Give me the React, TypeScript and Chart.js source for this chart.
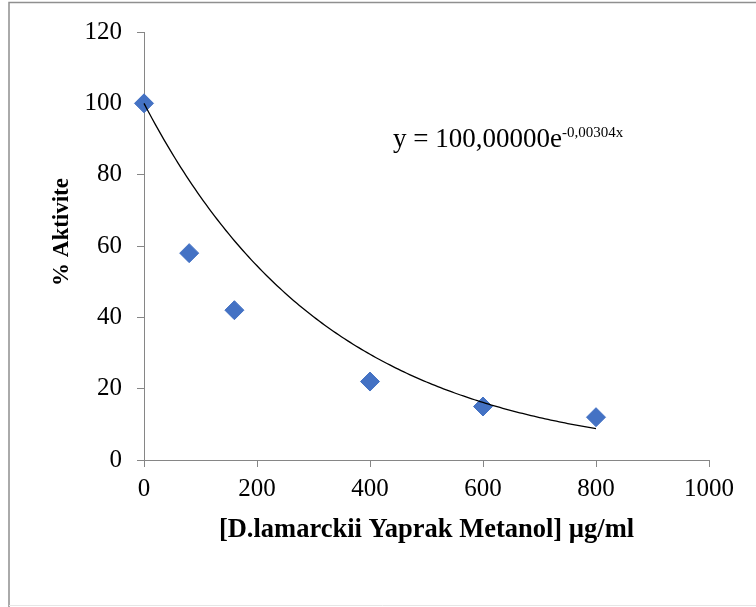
import { useEffect, useRef } from "react";
import { Chart, registerables } from "chart.js";

Chart.register(...registerables);

// Measured points: concentration (µg/ml) vs. remaining activity (%)
const concentrations = [0, 80, 160, 400, 600, 800];
const activity = [100, 58, 42, 22, 15, 12];

// Axis tick values
const xTicks = [0, 200, 400, 600, 800, 1000];
const yTicks = [0, 20, 40, 60, 80, 100, 120];

// Exponential trendline y = A·e^(k·x), drawn over the measured range
const trendA = 100;
const trendK = -0.00304;
const trendFrom = 0;
const trendTo = 800;
const trendStep = 5;

const equationMain = "y = 100,00000e";
const equationExp = "-0,00304x";
const xTitle = "[D.lamarckii Yaprak Metanol] µg/ml";
const yTitle = "% Aktivite";

const SERIF = "'Liberation Serif', 'Times New Roman', serif";
const AXIS_GREY = "#868686";
const MARKER_BLUE = "#4472C4";

function trendPoints() {
  const pts: { x: number; y: number }[] = [];
  for (let x = trendFrom; x <= trendTo; x += trendStep) {
    pts.push({ x, y: trendA * Math.exp(trendK * x) });
  }
  return pts;
}

const framePlugin = {
  id: "frame",
  beforeDraw(chart: any) {
    const { ctx, width, height } = chart;
    ctx.save();
    ctx.fillStyle = "#ffffff";
    ctx.fillRect(0, 0, width, height);
    ctx.strokeStyle = "#8f8f8f";
    ctx.lineWidth = 1.5;
    ctx.beginPath();
    ctx.moveTo(9, height);
    ctx.lineTo(9, 2.5);
    ctx.lineTo(width, 2.5);
    ctx.stroke();
    ctx.strokeStyle = "#e6e6e6";
    ctx.lineWidth = 1;
    ctx.beginPath();
    ctx.moveTo(9, height - 1.5);
    ctx.lineTo(width, height - 1.5);
    ctx.stroke();
    ctx.restore();
  },
};

// Trendline equation and the rotated y-axis title
const annotationPlugin = {
  id: "annotations",
  afterDraw(chart: any) {
    const { ctx, chartArea } = chart;
    const x = chartArea.left + 249;
    const y = chartArea.top + 115;
    ctx.save();
    ctx.fillStyle = "#000";
    ctx.textBaseline = "alphabetic";
    ctx.textAlign = "left";
    ctx.font = `27px ${SERIF}`;
    ctx.fillText(equationMain, x, y);
    const w = ctx.measureText(equationMain).width;
    ctx.font = `15px ${SERIF}`;
    ctx.fillText(equationExp, x + w, y - 10);

    ctx.translate(62, chartArea.top + 200);
    ctx.rotate(-Math.PI / 2);
    ctx.textAlign = "center";
    ctx.textBaseline = "middle";
    ctx.font = `bold 23px ${SERIF}`;
    ctx.fillText(yTitle, 0, 0);
    ctx.restore();
  },
};

export default function App() {
  const canvasRef = useRef<HTMLCanvasElement | null>(null);

  useEffect(() => {
    const canvas = canvasRef.current;
    if (!canvas) return;
    Chart.defaults.font.family = SERIF;
    const chart = new Chart(canvas, {
      type: "scatter",
      data: {
        datasets: [
          {
            type: "line",
            label: "Trend",
            data: trendPoints(),
            borderColor: "#000",
            borderWidth: 1.3,
            pointRadius: 0,
            tension: 0,
            fill: false,
            order: 0,
            clip: false,
          } as any,
          {
            label: "Aktivite",
            data: concentrations.map((c, i) => ({ x: c, y: activity[i] })),
            pointStyle: "rectRot",
            pointRadius: 9.5,
            pointHoverRadius: 9.5,
            backgroundColor: MARKER_BLUE,
            borderColor: MARKER_BLUE,
            borderWidth: 1,
            order: 1,
            clip: false,
          } as any,
        ],
      },
      options: {
        animation: false,
        responsive: false,
        layout: { padding: { left: 0, right: 47, top: 32, bottom: 0 } },
        plugins: {
          legend: { display: false },
          tooltip: { enabled: false },
        },
        scales: {
          x: {
            type: "linear",
            position: "bottom",
            min: 0,
            max: 1000,
            afterBuildTicks: (s: any) => {
              s.ticks = xTicks.map((v) => ({ value: v }));
            },
            afterFit: (s: any) => {
              s.height = 147;
            },
            grid: {
              display: true,
              drawOnChartArea: false,
              drawTicks: true,
              tickLength: 7,
              color: AXIS_GREY,
              lineWidth: 1,
            },
            border: { display: true, color: AXIS_GREY, width: 1 },
            ticks: {
              color: "#000",
              font: { size: 25 },
              padding: 7,
              maxRotation: 0,
              callback: (v: any) => String(v),
            },
            title: {
              display: true,
              text: xTitle,
              color: "#000",
              font: { size: 26.5, weight: "bold" },
              padding: { top: 0, bottom: 61 },
            },
          },
          y: {
            type: "linear",
            position: "left",
            min: 0,
            max: 120,
            afterBuildTicks: (s: any) => {
              s.ticks = yTicks.map((v) => ({ value: v }));
            },
            afterFit: (s: any) => {
              s.width = 144;
            },
            grid: {
              display: true,
              drawOnChartArea: false,
              drawTicks: true,
              tickLength: 7,
              color: AXIS_GREY,
              lineWidth: 1,
            },
            border: { display: true, color: AXIS_GREY, width: 1 },
            ticks: {
              color: "#000",
              font: { size: 25 },
              padding: 15,
              callback: (v: any) => String(v),
            },
            title: { display: false },
          },
        },
      },
      plugins: [framePlugin, annotationPlugin],
    });
    return () => chart.destroy();
  }, []);

  return (
    <div
      style={{
        position: "fixed",
        left: 0,
        top: 0,
        width: 756,
        height: 607,
        background: "#fff",
      }}
    >
      <canvas ref={canvasRef} width={756} height={607} />
    </div>
  );
}
